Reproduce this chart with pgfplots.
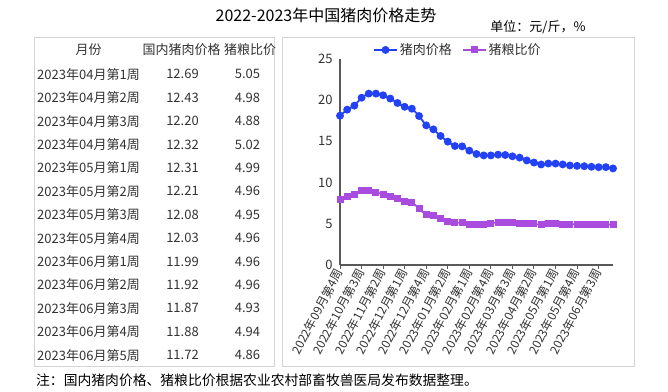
\documentclass[border=0pt]{standalone}
\usepackage{fontspec}
\setmainfont{Noto Sans CJK SC}
\usepackage{pgfplots}
\pgfplotsset{compat=1.18}
\definecolor{pblue}{RGB}{35,65,245}
\definecolor{ppurple}{RGB}{168,75,222}
\definecolor{boxgray}{RGB}{212,212,212}
\definecolor{axgray}{RGB}{89,89,89}
\definecolor{txt}{RGB}{50,50,50}
\begin{document}
\begin{tikzpicture}[x=1bp,y=1bp]
\path[use as bounding box] (0,0) rectangle (668,391);
% frames
\draw[boxgray, line width=1bp] (34,354) rectangle (274,25);
\draw[boxgray, line width=1bp] (282,354) rectangle (634,25);
% title and unit
\node at (326,375.5) {\fontsize{16bp}{18bp}\selectfont 2022-2023年中国猪肉价格走势};
\node at (538,364) {\fontsize{13bp}{15bp}\selectfont 单位：元/斤，\%};
% table
\begin{scope}[every node/.style={text=txt, font=\fontsize{13bp}{15bp}\selectfont}]
\node at (88.5,341) {月份};
\node at (181.5,341) {国内猪肉价格};
\node[anchor=west, inner sep=0pt] at (224,341) {猪粮比价};
\foreach \d/\p/\r [count=\i from 0] in {
2023年04月第1周/12.69/5.05,
2023年04月第2周/12.43/4.98,
2023年04月第3周/12.20/4.88,
2023年04月第4周/12.32/5.02,
2023年05月第1周/12.31/4.99,
2023年05月第2周/12.21/4.96,
2023年05月第3周/12.08/4.95,
2023年05月第4周/12.03/4.96,
2023年06月第1周/11.99/4.96,
2023年06月第2周/11.92/4.96,
2023年06月第3周/11.87/4.93,
2023年06月第4周/11.88/4.94,
2023年06月第5周/11.72/4.86}
{
\node at (88.5,{316.7-23.4*\i}) {\d};
\node at (182.5,{316.7-23.4*\i}) {\p};
\node at (247.5,{316.7-23.4*\i}) {\r};
}
\end{scope}
% footnote
\node[anchor=west, inner sep=0pt] at (36,11) {\fontsize{13.8bp}{15bp}\selectfont 注：国内猪肉价格、猪粮比价根据农业农村部畜牧兽医局发布数据整理。};
% chart
\begin{axis}[
  at={(340bp,126bp)}, anchor=south west,
  scale only axis, width=273bp, height=206bp,
  xmin=0, xmax=38, ymin=0, ymax=25,
  axis x line*=bottom, axis y line*=left,
  axis line style={axgray, line width=1.2bp, -},
  xtick={0,3,...,36},
  xticklabels={2022年09月第4周,2022年10月第3周,2022年11月第2周,2022年12月第1周,2022年12月第4周,2023年01月第2周,2023年02月第1周,2023年02月第4周,2023年03月第3周,2023年04月第2周,2023年05月第1周,2023年05月第4周,2023年06月第3周},
  ytick={0,5,...,25},
  ytick style={draw=none},
  xtick style={axgray, line width=1bp},
  tick align=outside, major tick length=4bp,
  xticklabel style={rotate=62, anchor=east, font=\fontsize{12bp}{13bp}\selectfont, text=txt, inner sep=1bp},
  yticklabel style={font=\fontsize{13bp}{14bp}\selectfont, text=txt},
  /pgf/number format/assume math mode=true,
  legend style={draw=none, fill=none, at={(0.432,1.044)}, anchor=center, legend columns=2,
    font=\fontsize{13bp}{14bp}\selectfont, text=txt,
    /tikz/every even column/.append style={column sep=8bp}},
  legend image code/.code={\draw[mark repeat=2,mark phase=2,#1] plot coordinates {(0bp,0bp) (11.5bp,0bp) (23bp,0bp)};},
  clip=false,
]
\addplot[pblue, line width=1.8bp, smooth, tension=0.4, mark=*, mark size=3bp, mark options={solid, fill=pblue}] coordinates {
(0,18.12)(1,18.85)(2,19.34)(3,20.3)(4,20.8)(5,20.8)(6,20.6)(7,20.2)(8,19.66)(9,19.2)
(10,18.97)(11,18.08)(12,16.95)(13,16.46)(14,15.66)(15,14.97)(16,14.44)(17,14.4)(18,13.88)(19,13.47)
(20,13.3)(21,13.3)(22,13.39)(23,13.35)(24,13.19)(25,13.03)(26,12.69)(27,12.43)(28,12.20)(29,12.32)
(30,12.31)(31,12.21)(32,12.08)(33,12.03)(34,11.99)(35,11.92)(36,11.87)(37,11.88)(38,11.72)};
\addlegendentry{猪肉价格}
\addplot[ppurple, line width=1.8bp, smooth, tension=0.4, mark=square*, mark size=2.6bp, mark options={solid, fill=ppurple}] coordinates {
(0,7.89)(1,8.33)(2,8.58)(3,9.02)(4,9.06)(5,8.82)(6,8.58)(7,8.33)(8,8.05)(9,7.69)
(10,7.56)(11,6.88)(12,6.07)(13,6.03)(14,5.62)(15,5.26)(16,5.14)(17,5.10)(18,4.95)(19,4.88)
(20,4.92)(21,5.05)(22,5.2)(23,5.2)(24,5.1)(25,5.08)(26,5.05)(27,4.98)(28,4.88)(29,5.02)
(30,4.99)(31,4.96)(32,4.95)(33,4.96)(34,4.96)(35,4.96)(36,4.93)(37,4.94)(38,4.86)};
\addlegendentry{猪粮比价}
\end{axis}
\end{tikzpicture}
\end{document}
